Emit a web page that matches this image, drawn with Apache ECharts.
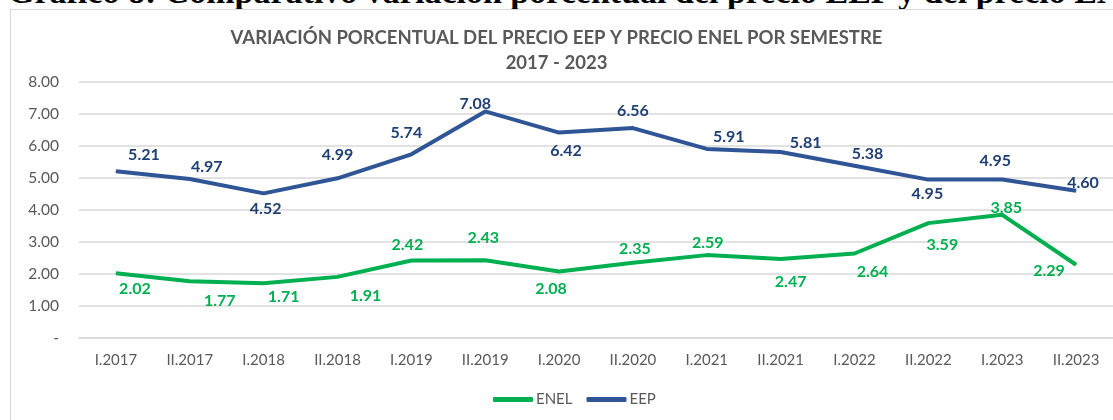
<!DOCTYPE html>
<html><head><meta charset="utf-8">
<script src="https://cdn.jsdelivr.net/npm/echarts@6/dist/echarts.min.js"></script>
<style>
html,body{margin:0;padding:0;background:#fff;overflow:hidden;width:1113px;height:420px;}
#head{position:absolute;left:8px;top:-25px;line-height:34px;font-family:"Liberation Serif","Times New Roman",serif;font-weight:bold;font-size:34px;color:#000;white-space:nowrap;}
#box{position:absolute;left:10px;top:9px;width:1110px;height:420px;border:1.5px solid #d9d9d9;box-sizing:border-box;background:#fff;}
#chart{position:absolute;left:0;top:0;width:1113px;height:420px;}
</style></head>
<body>
<div id="head">Gráfico 8: Comparativo variación porcentual del precio EEP y del precio ENEL</div>
<div id="box"></div>
<div id="chart"></div>
<script>
const categories = ['I.2017','II.2017','I.2018','II.2018','I.2019','II.2019','I.2020','II.2020','I.2021','II.2021','I.2022','II.2022','I.2023','II.2023'];
const enelValues = [2.02,1.77,1.71,1.91,2.42,2.43,2.08,2.35,2.59,2.47,2.64,3.59,3.85,2.29];
const eepValues  = [5.21,4.97,4.52,4.99,5.74,7.08,6.42,6.56,5.91,5.81,5.38,4.95,4.95,4.60];
const yTicks = [0,1,2,3,4,5,6,7,8];
const titleLine1 = 'VARIACIÓN PORCENTUAL DEL PRECIO EEP Y PRECIO ENEL POR SEMESTRE';
const titleLine2 = '2017 - 2023';

// label placement (style only)
const eepOffsets  = [[28,-16],[17,-12],[2,15],[0,-23],[-5,-21],[-10,-8],[7,18],[0,-17],[22,-12],[25,-9],[13,-12],[-1,14],[-7,-19],[7,-8]];
const enelOffsets = [[19,15],[30,19],[20,14],[28,19],[-4,-16],[-2,-22],[-8,17],[2,-14],[1,-12],[10,23],[18,18],[14,22],[4,-7],[-27,6]];

const EEP_LINE = '#2F5597', EEP_LABEL = '#203F73';
const ENEL_LINE = '#00B050', ENEL_LABEL = '#00B050';
const FONT = 'Lato,"Open Sans",sans-serif';

function mk(values, offsets) {
  return values.map((v, i) => ({ value: v, label: {offset: offsets[i]} }));
}

const chart = echarts.init(document.getElementById('chart'), null, {renderer:'canvas'});
chart.setOption({
  animation:false,
  title:[
    {text:titleLine1, left:'center', top:24,
     textStyle:{fontFamily:FONT,fontWeight:'bold',fontSize:18.5,color:'#595959'}},
    {text:titleLine2, left:'center', top:49,
     textStyle:{fontFamily:FONT,fontWeight:'bold',fontSize:18.5,color:'#595959'}}
  ],
  legend:{
    top:387, left:488,
    itemWidth:40, itemHeight:5, itemGap:14,
    icon:'roundRect',
    textStyle:{fontFamily:FONT,fontSize:15,color:'#595959',padding:[0,0,0,-2]},
    data:['ENEL','EEP']
  },
  grid:{left:79, right:0, top:82, bottom:82},
  xAxis:{
    type:'category', data:categories, boundaryGap:true,
    axisLine:{show:true,lineStyle:{color:'#d9d9d9',width:1.5}},
    axisTick:{show:false},
    axisLabel:{fontFamily:FONT,fontSize:15,color:'#595959',margin:15}
  },
  yAxis:{
    type:'value', min:yTicks[0], max:yTicks[yTicks.length-1], interval:1,
    axisLine:{show:false}, axisTick:{show:false},
    splitLine:{lineStyle:{color:'#d9d9d9',width:1.5}},
    axisLabel:{fontFamily:FONT,fontSize:15.5,color:'#595959',margin:20,
      formatter:v=> v===0 ? '-' : v.toFixed(2)}
  },
  series:[
    {name:'ENEL', type:'line', data:mk(enelValues,enelOffsets), symbol:'circle', symbolSize:1,
      lineStyle:{color:ENEL_LINE,width:4}, itemStyle:{color:ENEL_LINE},
      label:{show:true,position:'inside',color:ENEL_LABEL,fontFamily:FONT,fontWeight:'bold',fontSize:16,
        formatter:p=>p.value.toFixed(2)}, z:3},
    {name:'EEP', type:'line', data:mk(eepValues,eepOffsets), symbol:'circle', symbolSize:1,
      lineStyle:{color:EEP_LINE,width:4}, itemStyle:{color:EEP_LINE},
      label:{show:true,position:'inside',color:EEP_LABEL,fontFamily:FONT,fontWeight:'bold',fontSize:16,
        formatter:p=>p.value.toFixed(2)}, z:3}
  ]
});
</script>
</body></html>
